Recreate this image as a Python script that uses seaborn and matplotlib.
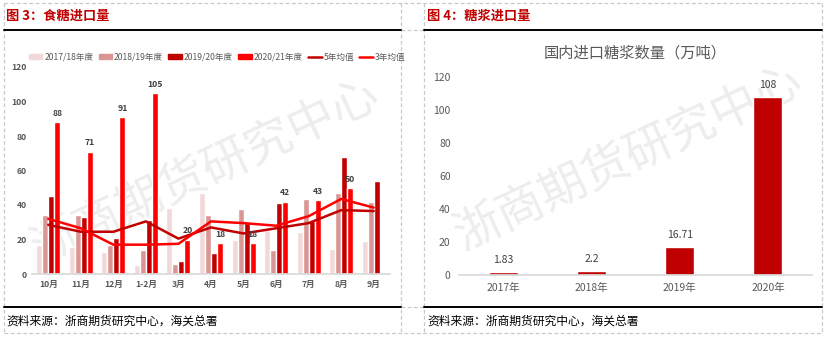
import numpy as np
import pandas as pd
import matplotlib
matplotlib.use("Agg")
import matplotlib.pyplot as plt
import seaborn as sns
from matplotlib.patches import Patch
from matplotlib.lines import Line2D

# ---- sugar imports by month and season (万吨) ----
months = ["10月", "11月", "12月", "1-2月", "3月", "4月", "5月", "6月", "7月", "8月", "9月"]
seasons = ["2017/18年度", "2018/19年度", "2019/20年度", "2020/21年度"]
s1718 = [17, 15.5, 13, 5, 38, 47, 20, 25.5, 24.5, 14.5, 19]
s1819 = [34, 34, 17, 14, 6, 34, 37.5, 14, 43.5, 47, 42]
s1920 = [45, 33, 21, 31.5, 7.5, 12, 29.5, 41, 31, 68, 54]
s2021 = [88, 71, 91, 105, 20, 18, 18, 42, 43, 50, np.nan]
avg5 = [28.5, 24.5, 24.5, 30.5, 20.5, 27, 23.5, 26.5, 29.5, 37, 36.5]
avg3 = [32, 26.5, 17, 17, 17.5, 30.5, 29.5, 28, 33.5, 43.5, 38.5]

# ---- syrup imports by year (万吨) ----
syrup_years = ["2017年", "2018年", "2019年", "2020年"]
syrup_vals = [1.83, 2.2, 16.71, 108]

season_colors = ["#f2d9d9", "#d99694", "#c00000", "#ff0000"]
c5, c3 = "#c00000", "#ff0000"
tick_color = "#595959"

sns.set_theme(style="white")
plt.rcParams["font.family"] = ["Noto Sans CJK SC", "DejaVu Sans"]

W, H = 826, 337
fig = plt.figure(figsize=(W / 100, H / 100), dpi=100)


def px_axes(x0, y0, x1, y1):
    """Axes from pixel box (left, top, right, bottom)."""
    a = fig.add_axes([x0 / W, 1 - y1 / H, (x1 - x0) / W, (y1 - y0) / H])
    a.set_zorder(2)
    a.patch.set_alpha(0)
    return a


def hline(x0, x1, y, **kw):
    fig.add_artist(Line2D([x0 / W, x1 / W], [1 - y / H, 1 - y / H], **kw))


def vline(x, y0, y1, **kw):
    fig.add_artist(Line2D([x / W, x / W], [1 - y0 / H, 1 - y1 / H], **kw))


# table frame
dash = dict(color="#c8c8c8", lw=0.9, ls=(0, (3, 2)))
for x in (4, 401, 424, 822):
    vline(x, 3, 333, **dash)
hline(4, 822, 3, **dash)
hline(4, 822, 333, **dash)
hline(401, 424, 30, **dash)
hline(401, 424, 307, **dash)
for (a, b) in ((4, 401), (424, 822)):
    hline(a, b, 30, color="black", lw=1.4)
    hline(a, b, 307, color="black", lw=1.4)

fig.text(6 / W, 1 - 16 / H, "图 3：食糖进口量", color="#c00000", fontsize=9.5,
         fontweight="bold", va="center", ha="left")
fig.text(427 / W, 1 - 16 / H, "图 4：糖浆进口量", color="#c00000", fontsize=9.5,
         fontweight="bold", va="center", ha="left")
for x in (6, 427):
    fig.text(x / W, 1 - 321 / H, "资料来源：浙商期货研究中心，海关总署", color="black",
             fontsize=8.5, va="center", ha="left")

# watermark, kept underneath the chart axes
for cx, cy in ((205, 172), (628, 158)):
    fig.text(cx / W, 1 - cy / H, "浙商期货研究中心", fontsize=34, color="#ededed",
             rotation=25, ha="center", va="center", zorder=0)

# ---- left: sugar imports ----
ax = px_axes(32, 67, 390, 274)
df = pd.DataFrame({
    "月份": months * 4,
    "年度": np.repeat(seasons, len(months)),
    "进口量": s1718 + s1819 + s1920 + s2021,
})
sns.barplot(data=df, x="月份", y="进口量", hue="年度", order=months, hue_order=seasons,
            palette=season_colors, saturation=1, width=0.74, errorbar=None,
            legend=False, ax=ax)
pos = np.arange(len(months))
sns.lineplot(x=pos, y=avg5, color=c5, lw=1.8, sort=False, ax=ax)
sns.lineplot(x=pos, y=avg3, color=c3, lw=1.8, sort=False, ax=ax)

last = ax.containers[3]
labels = [f"{p.get_height():.0f}" if np.isfinite(p.get_height()) else "" for p in last]
ax.bar_label(last, labels=labels, padding=3, fontsize=6.2, fontweight="bold",
             color="#404040")

ax.set_ylim(0, 120)
ax.set_xlim(-0.5, len(months) - 0.5)
ax.set_yticks(range(0, 121, 20))
ax.set_xlabel("")
ax.set_ylabel("")
for s in ("top", "right", "left"):
    ax.spines[s].set_visible(False)
ax.spines["bottom"].set_color("#d9d9d9")
ax.tick_params(axis="both", length=0, labelsize=6.2, labelcolor=tick_color, pad=4)
for t in ax.get_xticklabels() + ax.get_yticklabels():
    t.set_fontweight("bold")

handles = [Patch(color=c) for c in season_colors] + [
    Line2D([], [], color=c5, lw=1.8), Line2D([], [], color=c3, lw=1.8)]
names = seasons + ["5年均值", "3年均值"]
fig.legend(handles, names, loc="center", bbox_to_anchor=(217 / W, 1 - 57 / H),
           ncol=6, frameon=False, fontsize=6.2, handlelength=1.6, handleheight=0.6,
           handletextpad=0.2, columnspacing=0.6, labelcolor=tick_color)

# ---- right: syrup imports ----
ax2 = px_axes(459, 77, 812, 275)
sns.barplot(x=syrup_years, y=syrup_vals, color="#c00000", saturation=1, width=0.33,
            errorbar=None, ax=ax2)
ax2.bar_label(ax2.containers[0], labels=[f"{p.get_height():g}" for p in ax2.containers[0]],
              padding=5, fontsize=7.5, color="#404040")
ax2.set_ylim(0, 120)
ax2.set_yticks(range(0, 121, 20))
for s in ("top", "right", "left"):
    ax2.spines[s].set_visible(False)
ax2.spines["bottom"].set_color("#d9d9d9")
ax2.tick_params(axis="both", length=0, labelsize=7.5, labelcolor=tick_color, pad=6)
ax2.set_title("国内进口糖浆数量（万吨）", fontsize=11, color=tick_color, pad=14)

fig.savefig("out.png", dpi=100)
